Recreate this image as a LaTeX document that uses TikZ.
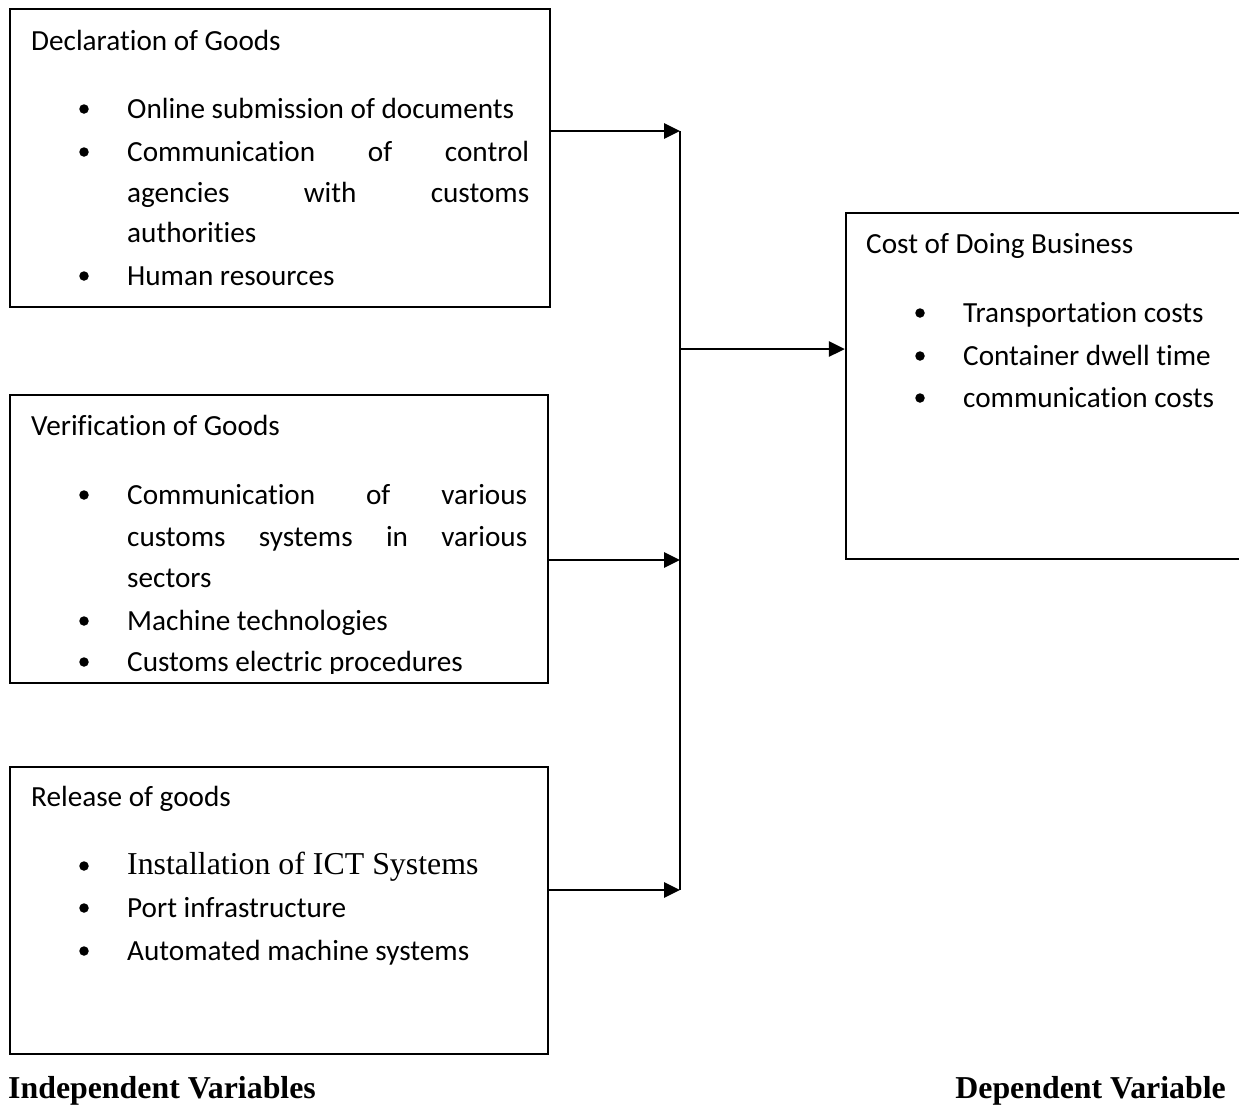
\documentclass[tikz,border=0pt]{standalone}
\usepackage{fontspec}
\setmainfont[RawFeature={-liga;-clig;-dlig}]{Carlito}
\newfontfamily\tms{Liberation Serif}
\usetikzlibrary{arrows.meta}
\tikzset{
  box/.style={draw=black, line width=2.2pt, rectangle, inner sep=0pt},
  txt/.style={anchor=base west, inner sep=0pt, font=\fontsize{29.2}{35}\selectfont},
  bul/.style={circle, fill=black, inner sep=0pt, minimum size=9.5pt},
  lbl/.style={inner sep=0pt, font=\tms\bfseries\fontsize{31.85}{38}\selectfont},
  conn/.style={line width=2.8pt, -{Triangle[length=16pt,width=15pt]}},
  plain/.style={line width=2.8pt}
}
\newcommand{\jline}[2]{\makebox[#1pt][s]{#2}}
\begin{document}
\begin{tikzpicture}[x=1pt,y=-1pt]
\useasboundingbox (0,0) rectangle (1239,1104);
\fill[white] (0,0) rectangle (1239,1104);

% boxes
\node[box, minimum width=540pt, minimum height=298pt] (box1) at (280,158) {};
\node[box, minimum width=538pt, minimum height=288pt] (box2) at (279,539) {};
\node[box, minimum width=538pt, minimum height=287pt] (box3) at (279,910.5) {};
\node[box, minimum width=404pt, minimum height=346pt] (box4) at (1048,386) {};

% box 1 text
\node[txt] (h1) at (31,50) {Declaration of Goods};
\node[bul] (b1a) at (84,109) {};
\node[txt] (t1a) at (127,118) {Online submission of documents};
\node[bul] (b1b) at (84,152) {};
\node[txt] (t1b) at (127,161) {\jline{402}{Communication\hfill of\hfill control}};
\node[txt] (t1c) at (127,202) {\jline{402}{agencies\hfill with\hfill customs}};
\node[txt] (t1d) at (127,242.5) {authorities};
\node[bul] (b1e) at (84,276) {};
\node[txt] (t1e) at (127,285) {Human resources};

% box 2 text (clipped at the bottom)
\begin{scope}
\clip (11,396) rectangle (547,673);
\node[txt] (h2) at (31,435) {Verification of Goods};
\node[bul] (b2a) at (84,495) {};
\node[txt] (t2a) at (127,504) {\jline{400}{Communication\hfill of\hfill various}};
\node[txt] (t2b) at (127,546) {\jline{400}{customs\hfill systems\hfill in\hfill various}};
\node[txt] (t2c) at (127,587.5) {sectors};
\node[bul] (b2d) at (84,621) {};
\node[txt] (t2d) at (127,630) {Machine technologies};
\node[bul] (b2e) at (84,662) {};
\node[txt] (t2e) at (127,671.5) {Customs electric procedures};
\end{scope}

% box 3 text
\node[txt] (h3) at (31,806.5) {Release of goods};
\node[bul] (b3a) at (84,866) {};
\node[txt, font=\tms\fontsize{31.85}{38}\selectfont] (t3a) at (127,874) {Installation of ICT Systems};
\node[bul] (b3b) at (84,908) {};
\node[txt] (t3b) at (127,917.5) {Port infrastructure};
\node[bul] (b3c) at (84,951) {};
\node[txt] (t3c) at (127,960.5) {Automated machine systems};

% box 4 text
\node[txt] (h4) at (866,253.5) {Cost of Doing Business};
\node[bul] (b4a) at (920,313) {};
\node[txt] (t4a) at (963,322) {Transportation costs};
\node[bul] (b4b) at (920,356) {};
\node[txt] (t4b) at (963,365) {Container dwell time};
\node[bul] (b4c) at (920,398) {};
\node[txt] (t4c) at (963,407.5) {communication costs};

% connectors
\coordinate (j1) at (680,131);
\coordinate (j2) at (680,560);
\coordinate (j3) at (680,890);
\coordinate (jm) at (680,349);
\draw[plain] (j1) -- (j3);
\draw[conn] (box1.east |- j1) -- (j1);
\draw[conn] (box2.east |- j2) -- (j2);
\draw[conn] (box3.east |- j3) -- (j3);
\draw[conn] (jm) -- (box4.west |- jm);

% labels
\node[lbl, anchor=base west] (iv) at (8,1098) {Independent Variables};
\node[lbl, anchor=base east] (dv) at (1226,1098) {Dependent Variable};
\end{tikzpicture}
\end{document}
